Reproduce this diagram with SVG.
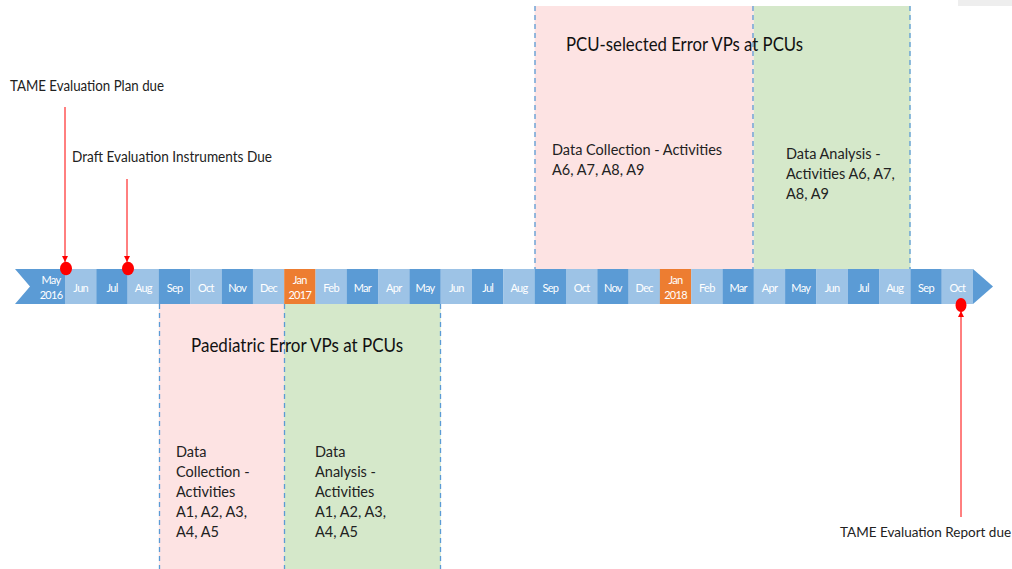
<svg xmlns="http://www.w3.org/2000/svg" width="1012" height="569" viewBox="0 0 1012 569">
<style>
.dk{fill:#5B9BD5}.lt{fill:#9DC3E6}.or{fill:#ED7D31}
.m{font-family:Lato,"Liberation Sans",sans-serif;font-size:11px;fill:#fff;text-anchor:middle;letter-spacing:-0.7px}
.t{font-family:Lato,"Liberation Sans",sans-serif;font-size:14.5px;fill:#222}
.h{font-family:Lato,"Liberation Sans",sans-serif;font-size:19px;fill:#111}
.pink{fill:#FDE3E3}.green{fill:#D5E8CA}
.dash{stroke:#5B9BD5;stroke-width:1.3;stroke-dasharray:5,4;fill:none}
.red{stroke:#FF0000;stroke-width:1;fill:none}
.dot{fill:#FF0000}
</style>
<defs>
<marker id="ah" viewBox="0 0 10 10" refX="10" refY="5" markerWidth="6" markerHeight="6" markerUnits="userSpaceOnUse" orient="auto">
<path d="M0,0 L10,5 L0,10 z" fill="#FF0000"/>
</marker>
</defs>
<rect x="958" y="0" width="54" height="6" fill="#EEEEEE"/>
<g id="phase-pcu">
<rect class="pink" x="534.6" y="6" width="219.2" height="263"/>
<rect class="green" x="753.8" y="6" width="156.6" height="263"/>
<line class="dash" x1="535" y1="6" x2="535" y2="269"/>
<line class="dash" x1="753" y1="6" x2="753" y2="269"/>
<line class="dash" x1="910" y1="6" x2="910" y2="269"/>
<text class="h" x="566" y="51" textLength="237" lengthAdjust="spacingAndGlyphs">PCU-selected Error VPs at PCUs</text>
<text class="t" x="552" y="155">Data Collection - Activities</text>
<text class="t" x="552" y="175">A6, A7, A8, A9</text>
<text class="t" x="786" y="159">Data Analysis -</text>
<text class="t" x="786" y="179">Activities A6, A7,</text>
<text class="t" x="786" y="199">A8, A9</text>
</g>
<g id="phase-paed">
<rect class="pink" x="158.9" y="304" width="125.3" height="265"/>
<rect class="green" x="284.2" y="304" width="156.5" height="265"/>
<line class="dash" x1="159.5" y1="304" x2="159.5" y2="569"/>
<line class="dash" x1="284.5" y1="304" x2="284.5" y2="569"/>
<line class="dash" x1="440.5" y1="304" x2="440.5" y2="569"/>
<text class="h" x="191" y="352" textLength="212" lengthAdjust="spacingAndGlyphs">Paediatric Error VPs at PCUs</text>
<text class="t" x="176" y="457">Data</text>
<text class="t" x="176" y="477">Collection -</text>
<text class="t" x="176" y="497">Activities</text>
<text class="t" x="176" y="517">A1, A2, A3,</text>
<text class="t" x="176" y="537">A4, A5</text>
<text class="t" x="315" y="457">Data</text>
<text class="t" x="315" y="477">Analysis -</text>
<text class="t" x="315" y="497">Activities</text>
<text class="t" x="315" y="517">A1, A2, A3,</text>
<text class="t" x="315" y="537">A4, A5</text>
</g>
<g id="timeline">
<polygon class="dk" points="15,269 65,269 65,304 15,304 30,286.5"/>
<rect class="lt" x="65" y="269" width="31.4" height="35"/>
<rect class="dk" x="96.3" y="269" width="31.4" height="35"/>
<rect class="lt" x="127.6" y="269" width="31.4" height="35"/>
<rect class="dk" x="158.9" y="269" width="31.4" height="35"/>
<rect class="lt" x="190.2" y="269" width="31.4" height="35"/>
<rect class="dk" x="221.6" y="269" width="31.4" height="35"/>
<rect class="lt" x="252.9" y="269" width="31.4" height="35"/>
<rect class="or" x="284.2" y="269" width="31.4" height="35"/>
<rect class="lt" x="315.5" y="269" width="31.4" height="35"/>
<rect class="dk" x="346.8" y="269" width="31.4" height="35"/>
<rect class="lt" x="378.1" y="269" width="31.4" height="35"/>
<rect class="dk" x="409.4" y="269" width="31.4" height="35"/>
<rect class="lt" x="440.7" y="269" width="31.4" height="35"/>
<rect class="dk" x="472" y="269" width="31.4" height="35"/>
<rect class="lt" x="503.3" y="269" width="31.4" height="35"/>
<rect class="dk" x="534.6" y="269" width="31.4" height="35"/>
<rect class="lt" x="566" y="269" width="31.4" height="35"/>
<rect class="dk" x="597.3" y="269" width="31.4" height="35"/>
<rect class="lt" x="628.6" y="269" width="31.4" height="35"/>
<rect class="or" x="659.9" y="269" width="31.4" height="35"/>
<rect class="lt" x="691.2" y="269" width="31.4" height="35"/>
<rect class="dk" x="722.5" y="269" width="31.4" height="35"/>
<rect class="lt" x="753.8" y="269" width="31.4" height="35"/>
<rect class="dk" x="785.1" y="269" width="31.4" height="35"/>
<rect class="lt" x="816.4" y="269" width="31.4" height="35"/>
<rect class="dk" x="847.8" y="269" width="31.4" height="35"/>
<rect class="lt" x="879.1" y="269" width="31.4" height="35"/>
<rect class="dk" x="910.4" y="269" width="31.4" height="35"/>
<rect class="lt" x="941.7" y="269" width="31.3" height="35"/>
<polygon class="dk" points="973,269 993,286.5 973,304"/>
<text class="m" x="51" y="284">May</text>
<text class="m" x="51" y="299">2016</text>
<text class="m" x="80.7" y="292">Jun</text>
<text class="m" x="112" y="292">Jul</text>
<text class="m" x="143.3" y="292">Aug</text>
<text class="m" x="174.6" y="292">Sep</text>
<text class="m" x="205.9" y="292">Oct</text>
<text class="m" x="237.2" y="292">Nov</text>
<text class="m" x="268.5" y="292">Dec</text>
<text class="m" x="299.8" y="284">Jan</text>
<text class="m" x="299.8" y="299">2017</text>
<text class="m" x="331.1" y="292">Feb</text>
<text class="m" x="362.4" y="292">Mar</text>
<text class="m" x="393.8" y="292">Apr</text>
<text class="m" x="425.1" y="292">May</text>
<text class="m" x="456.4" y="292">Jun</text>
<text class="m" x="487.7" y="292">Jul</text>
<text class="m" x="519" y="292">Aug</text>
<text class="m" x="550.3" y="292">Sep</text>
<text class="m" x="581.6" y="292">Oct</text>
<text class="m" x="612.9" y="292">Nov</text>
<text class="m" x="644.2" y="292">Dec</text>
<text class="m" x="675.5" y="284">Jan</text>
<text class="m" x="675.5" y="299">2018</text>
<text class="m" x="706.9" y="292">Feb</text>
<text class="m" x="738.2" y="292">Mar</text>
<text class="m" x="769.5" y="292">Apr</text>
<text class="m" x="800.8" y="292">May</text>
<text class="m" x="832.1" y="292">Jun</text>
<text class="m" x="863.4" y="292">Jul</text>
<text class="m" x="894.7" y="292">Aug</text>
<text class="m" x="926" y="292">Sep</text>
<text class="m" x="957.3" y="292">Oct</text>
</g>
<g id="milestone-plan">
<text class="t" x="10" y="91" textLength="154" lengthAdjust="spacingAndGlyphs">TAME Evaluation Plan due</text>
<ellipse class="dot" cx="66" cy="268.5" rx="6" ry="6.8"/>
</g>
<g id="milestone-instruments">
<text class="t" x="72" y="162" textLength="200" lengthAdjust="spacingAndGlyphs">Draft Evaluation Instruments Due</text>
<ellipse class="dot" cx="128" cy="268.5" rx="6" ry="6.8"/>
</g>
<g id="milestone-report">
<text class="t" x="840" y="537" style="font-size:13.5px">TAME Evaluation Report due</text>
<ellipse class="dot" cx="961" cy="305" rx="5.5" ry="7"/>
</g>
<g id="connectors">
<line class="red" x1="65" y1="107" x2="65" y2="262" marker-end="url(#ah)"/>
<line class="red" x1="127" y1="179" x2="127" y2="262" marker-end="url(#ah)"/>
<line class="red" x1="961" y1="517" x2="961" y2="311" marker-end="url(#ah)"/>
</g>
</svg>
